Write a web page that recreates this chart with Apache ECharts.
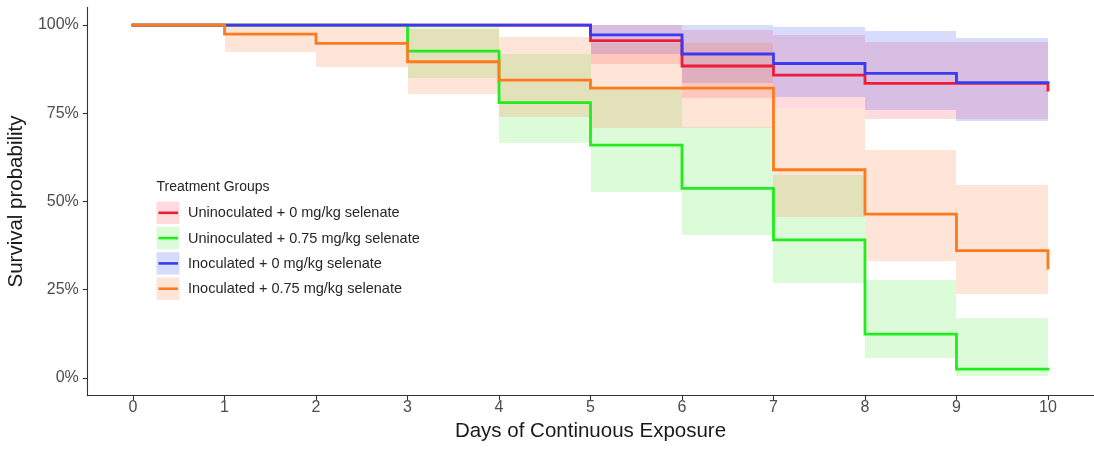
<!DOCTYPE html>
<html>
<head>
<meta charset="utf-8">
<title>Survival by treatment group</title>
<script src="https://cdn.jsdelivr.net/npm/echarts@6/dist/echarts.min.js"></script>
<style>
  html, body { margin: 0; padding: 0; background: #ffffff; }
  #chart { width: 1094px; height: 451px; }
</style>
</head>
<body>
<div id="chart"></div>
<script>
// Days since the start of exposure
const days = [0, 1, 2, 3, 4, 5, 6, 7, 8, 9, 10];

// Kaplan-Meier survival (%) for each treatment group
const survUninoc0   = [100, 100, 100, 100, 100, 95.6, 88.4, 85.8, 83.5, 83.5, 81.6];
const survUninoc075 = [100, 100, 100, 92.6, 78.0, 66.0, 53.7, 39.1, 12.4, 2.5, 2.5];
const survInoc0     = [100, 100, 100, 100, 100, 97.2, 91.8, 89.1, 86.3, 83.7, 83.7];
const survInoc075   = [100, 97.4, 94.8, 89.6, 84.4, 82.1, 82.1, 59.0, 46.4, 36.1, 31.1];

// 95% confidence limits (%) over each day-long interval starting at days 0..9
const lowUninoc0    = [100, 100, 100, 100, 100, 89.1, 79.2, 76.4, 73.5, 73.5];
const highUninoc0   = [100, 100, 100, 100, 100, 100, 98.6, 97.2, 95.3, 95.3];
const lowUninoc075  = [100, 100, 100, 84.9, 66.5, 52.8, 40.5, 26.8, 5.6, 0.5];
const highUninoc075 = [100, 100, 100, 100, 91.7, 82.5, 71.2, 57.5, 27.8, 16.9];
const lowInoc0      = [100, 100, 100, 100, 100, 91.9, 83.6, 79.7, 75.9, 72.8];
const highInoc0     = [100, 100, 100, 100, 100, 100, 100, 99.5, 98.2, 96.4];
const lowInoc075    = [100, 92.5, 88.2, 80.6, 74.0, 70.9, 70.9, 45.7, 33.0, 23.8];
const highInoc075   = [100, 100, 99.5, 99.0, 96.7, 94.8, 94.8, 76.4, 64.6, 54.7];

// Axis ticks
const xTicks = [0, 1, 2, 3, 4, 5, 6, 7, 8, 9, 10];
const yTicks = [0, 25, 50, 75, 100];

const groupNames = [
  'Uninoculated + 0 mg/kg selenate',
  'Uninoculated + 0.75 mg/kg selenate',
  'Inoculated + 0 mg/kg selenate',
  'Inoculated + 0.75 mg/kg selenate'
];
const lineColors = ['#ee1c36', '#22ec1e', '#3a3af0', '#ff7a1c'];
const bandColors = [
  'rgba(255, 40, 70, 0.17)',
  'rgba(40, 230, 20, 0.16)',
  'rgba(40, 60, 240, 0.18)',
  'rgba(255, 110, 40, 0.18)'
];

const survival = [survUninoc0, survUninoc075, survInoc0, survInoc075];
const lower = [lowUninoc0, lowUninoc075, lowInoc0, lowInoc075];
const upper = [highUninoc0, highUninoc075, highInoc0, highInoc075];

const FONT = '"Liberation Sans", Arial, Helvetica, sans-serif';

const series = [];

// Confidence bands: one shaded block per interval, edges snapped to whole pixels
// so neighbouring blocks meet without seams
groupNames.forEach((name, g) => {
  const blocks = lower[g].map((lo, i) => [days[i], days[i + 1], lo, upper[g][i]]);
  series.push({
    type: 'custom',
    name: name + ' 95% CI',
    data: blocks,
    encode: { x: [0, 1], y: [2, 3] },
    silent: true,
    z: 1,
    renderItem: (params, api) => {
      const p0 = api.coord([api.value(0), api.value(3)]);
      const p1 = api.coord([api.value(1), api.value(2)]);
      const x0 = Math.round(p0[0]);
      const x1 = Math.round(p1[0]);
      const y0 = Math.round(p0[1]);
      const y1 = Math.round(p1[1]);
      if (y1 - y0 <= 0) return null;
      return {
        type: 'rect',
        shape: { x: x0, y: y0, width: x1 - x0, height: y1 - y0 },
        style: { fill: bandColors[g] }
      };
    }
  });
});

// Survival curves
groupNames.forEach((name, g) => {
  series.push({
    type: 'line',
    name: name,
    step: 'end',
    data: days.map((d, i) => [d, survival[g][i]]),
    showSymbol: false,
    symbol: 'none',
    lineStyle: { color: lineColors[g], width: 2.8, cap: 'square', join: 'miter' },
    itemStyle: { color: lineColors[g] },
    silent: true,
    z: 3
  });
});

// Legend: key boxes in the band colour with the curve colour across them
const legendLeft = 156.5;
const legendTitleY = 187;
const legendRowY = [212.8, 238.1, 263.4, 288.7];
const legendElements = [{
  type: 'text',
  x: legendLeft,
  y: legendTitleY,
  style: { text: 'Treatment Groups', font: '14px ' + FONT, fill: '#262626', verticalAlign: 'middle' }
}];
groupNames.forEach((name, g) => {
  const cy = legendRowY[g];
  legendElements.push({
    type: 'rect',
    shape: { x: legendLeft, y: cy - 11.2, width: 23, height: 22.4 },
    style: { fill: bandColors[g] }
  });
  legendElements.push({
    type: 'line',
    shape: { x1: legendLeft + 2, y1: cy, x2: legendLeft + 21.5, y2: cy },
    style: { stroke: lineColors[g], lineWidth: 2.6 }
  });
  legendElements.push({
    type: 'text',
    x: legendLeft + 31.5,
    y: cy + 0.5,
    style: {
      text: name,
      font: '14.5px ' + FONT,
      fill: '#262626',
      verticalAlign: 'middle',
      align: 'left'
    }
  });
});

const option = {
  animation: false,
  backgroundColor: '#ffffff',
  grid: {
    left: 87.3,
    right: 0.3,
    top: 7.4,
    bottom: 55.4,
    containLabel: false,
    outerBoundsMode: 'none'
  },
  xAxis: {
    type: 'value',
    min: -0.5,
    max: 10.5,
    name: 'Days of Continuous Exposure',
    nameLocation: 'middle',
    nameGap: 25,
    nameTextStyle: { fontFamily: FONT, fontSize: 20.5, color: '#1a1a1a' },
    axisLine: { show: true, onZero: false, lineStyle: { color: '#333333', width: 1.1 } },
    axisTick: { show: true, length: 4.5, customValues: xTicks, lineStyle: { color: '#333333', width: 1.1 } },
    axisLabel: {
      customValues: xTicks,
      margin: 4,
      fontFamily: FONT,
      fontSize: 16,
      color: '#4d4d4d',
      formatter: (v) => String(v)
    },
    splitLine: { show: false }
  },
  yAxis: {
    type: 'value',
    min: -5,
    max: 105,
    name: 'Survival probability',
    nameLocation: 'middle',
    nameGap: 53,
    nameTextStyle: { fontFamily: FONT, fontSize: 20.5, color: '#1a1a1a' },
    axisLine: { show: true, onZero: false, lineStyle: { color: '#333333', width: 1.1 } },
    axisTick: { show: true, length: 4.5, customValues: yTicks, lineStyle: { color: '#333333', width: 1.1 } },
    axisLabel: {
      customValues: yTicks,
      margin: 8.5,
      fontFamily: FONT,
      fontSize: 16,
      color: '#4d4d4d',
      formatter: (v) => v + '%'
    },
    splitLine: { show: false }
  },
  graphic: { elements: legendElements },
  series: series
};

const chart = echarts.init(document.getElementById('chart'), null, { renderer: 'canvas' });
chart.setOption(option);
</script>
</body>
</html>
